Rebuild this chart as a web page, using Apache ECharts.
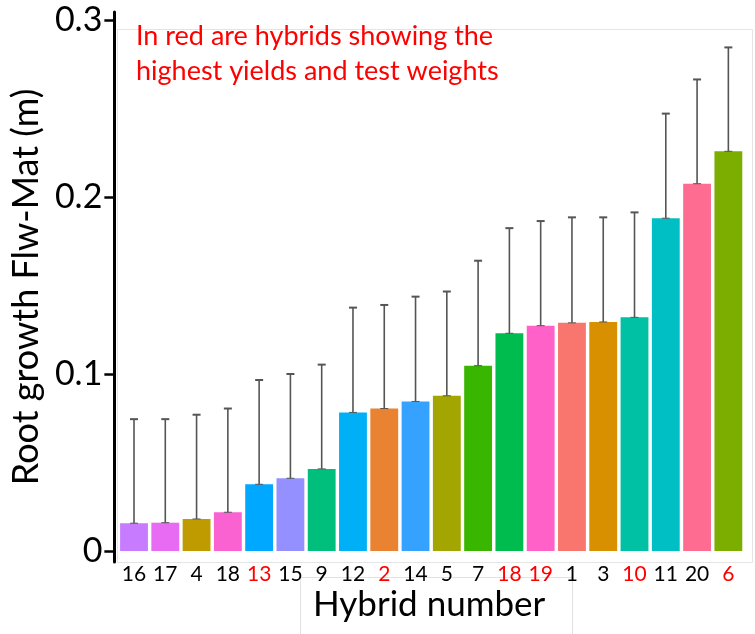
<!DOCTYPE html>
<html>
<head>
<meta charset="utf-8">
<script src="https://cdn.jsdelivr.net/npm/echarts@6/dist/echarts.min.js"></script>
<style>
  html, body { margin: 0; padding: 0; background: #fff; }
  #chart { width: 755px; height: 634px; }
</style>
</head>
<body>
<div id="chart"></div>
<script>
// Hybrids in ascending order of mean root growth between flowering and maturity
const hybrids = ['16', '17', '4', '18', '13', '15', '9', '12', '2', '14', '5', '7', '18', '19', '1', '3', '10', '11', '20', '6'];
// Hybrids with the highest yields and test weights
const highlighted = [false, false, false, false, true, false, false, false, true, false, false, false, true, true, false, false, true, false, false, true];
// Mean root growth (m)
const meanGrowth = [0.0157, 0.0160, 0.0181, 0.0219, 0.0377, 0.0411, 0.0464, 0.0783, 0.0805, 0.0845, 0.0877, 0.1047, 0.1230, 0.1273, 0.1289, 0.1294, 0.1320, 0.1880, 0.2075, 0.2258];
// Upper end of the error bars (m)
const upperError = [0.0745, 0.0745, 0.0770, 0.0805, 0.0966, 0.1000, 0.1053, 0.1375, 0.1390, 0.1437, 0.1466, 0.1640, 0.1824, 0.1864, 0.1885, 0.1885, 0.1913, 0.2471, 0.2664, 0.2845];
// Fill colour of each bar
const barColors = ['#C77CFF', '#E76BF3', '#C09B00', '#F962D0', '#00A9FF', '#9590FF', '#00BF7D', '#00B0F6', '#EA8331', '#35A2FF', '#A3A500', '#39B600', '#00BB4E', '#FF61C9', '#F8766D', '#D89000', '#00C1A3', '#00BFC4', '#FF6C91', '#7CAE00'];
// Y-axis tick values
const yTicks = [0, 0.1, 0.2, 0.3];

const FONT = 'Lato';

const chart = echarts.init(document.getElementById('chart'), null, { renderer: 'canvas' });

const option = {
  backgroundColor: '#ffffff',
  animation: false,
  textStyle: { fontFamily: FONT },
  grid: { left: 117, right: 11, top: 12, bottom: 72, containLabel: false },
  graphic: [
    // light panel frame
    {
      type: 'rect', silent: true, z: 0,
      shape: { x: 117.5, y: 29.5, width: 635, height: 533 },
      style: { fill: 'none', stroke: '#e4e4e4', lineWidth: 1 }
    },
    // faint frame around the x-axis title
    {
      type: 'polyline', silent: true, z: 0,
      shape: { points: [[300.5, 640], [300.5, 577.5], [572.5, 577.5], [572.5, 640]] },
      style: { fill: 'none', stroke: '#e2e2e2', lineWidth: 1 }
    },
    {
      type: 'text', z: 10,
      left: 136, top: 19,
      style: {
        text: 'In red are hybrids showing the\nhighest yields and test weights',
        fill: '#ff0000', fontSize: 27, lineHeight: 35, fontFamily: FONT
      }
    },
    {
      type: 'text', z: 10,
      left: 313, top: 587,
      style: {
        text: 'Hybrid number', fill: '#000', fontSize: 35, fontFamily: FONT
      }
    }
  ],
  xAxis: {
    type: 'category',
    data: hybrids.map((h, i) => ({
      value: h,
      textStyle: { color: highlighted[i] ? '#ff0000' : '#000000' }
    })),
    axisLine: { show: false },
    axisTick: { show: false },
    axisLabel: { fontSize: 21, margin: 2, interval: 0, fontFamily: FONT },
    splitLine: { show: false }
  },
  yAxis: {
    type: 'value',
    min: -0.0062,
    max: 0.3045,
    offset: 4,
    name: 'Root growth Flw-Mat (m)',
    nameLocation: 'middle',
    nameGap: 66,
    nameTextStyle: { fontSize: 36, color: '#000', fontFamily: FONT },
    axisLine: { show: true, lineStyle: { color: '#000', width: 3 } },
    axisTick: { show: true, length: 10, lineStyle: { color: '#000', width: 2.5 }, customValues: yTicks },
    axisLabel: {
      fontSize: 34, color: '#000', margin: 12, fontFamily: FONT,
      customValues: yTicks,
      formatter: v => (v === 0 ? '0' : v.toFixed(1))
    },
    splitLine: { show: false }
  },
  series: [
    {
      type: 'bar',
      barCategoryGap: '11%',
      data: meanGrowth.map((v, i) => ({ value: v, itemStyle: { color: barColors[i] } })),
      z: 2
    },
    {
      type: 'custom',
      z: 3,
      data: meanGrowth.map((v, i) => [i, v, upperError[i]]),
      renderItem: function (params, api) {
        const base = api.coord([api.value(0), api.value(1)]);
        const top = api.coord([api.value(0), api.value(2)]);
        const half = 4;
        const style = { stroke: '#555555', lineWidth: 1.6 };
        return {
          type: 'group',
          children: [
            { type: 'line', shape: { x1: base[0], y1: base[1], x2: top[0], y2: top[1] }, style },
            { type: 'line', shape: { x1: top[0] - half, y1: top[1], x2: top[0] + half, y2: top[1] }, style: { stroke: '#555555', lineWidth: 2 } },
            { type: 'line', shape: { x1: base[0] - half, y1: base[1], x2: base[0] + half, y2: base[1] }, style: { stroke: '#555555', lineWidth: 1 } }
          ]
        };
      }
    }
  ]
};

chart.setOption(option);
</script>
</body>
</html>
